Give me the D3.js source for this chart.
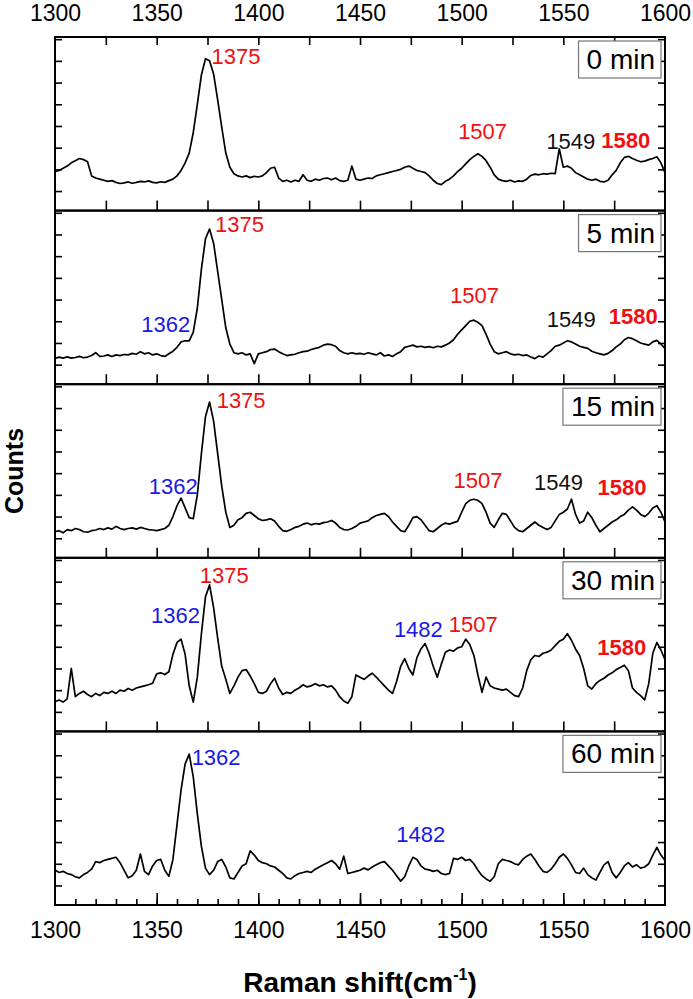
<!DOCTYPE html>
<html>
<head>
<meta charset="utf-8">
<script src="https://cdn.jsdelivr.net/npm/d3@7"></script>
<style>
  html, body { margin: 0; padding: 0; background: #fff; }
  svg { display: block; font-family: "Liberation Sans", Arial, sans-serif; }
</style>
</head>
<body>
<svg id="chart" width="693" height="999"></svg>
<script>
// Raman shift sampling grid (cm-1)
const shift = [
 1300,1302,1304,1306,1308,1310,1312,1314,1316,1318,
 1320,1322,1324,1326,1328,1330,1332,1334,1336,1338,
 1340,1342,1344,1346,1348,1350,1352,1354,1356,1358,
 1360,1362,1364,1366,1368,1370,1372,1374,1376,1378,
 1380,1382,1384,1386,1388,1390,1392,1394,1396,1398,
 1400,1402,1404,1406,1408,1410,1412,1414,1416,1418,
 1420,1422,1424,1426,1428,1430,1432,1434,1436,1438,
 1440,1442,1444,1446,1448,1450,1452,1454,1456,1458,
 1460,1462,1464,1466,1468,1470,1472,1474,1476,1478,
 1480,1482,1484,1486,1488,1490,1492,1494,1496,1498,
 1500,1502,1504,1506,1508,1510,1512,1514,1516,1518,
 1520,1522,1524,1526,1528,1530,1532,1534,1536,1538,
 1540,1542,1544,1546,1548,1550,1552,1554,1556,1558,
 1560,1562,1564,1566,1568,1570,1572,1574,1576,1578,
 1580,1582,1584,1586,1588,1590,1592,1594,1596,1598,
 1600];

// Counts (arbitrary units) per spectrum
const counts0 = [
 1.89,1.95,2.05,2.15,2.30,2.40,2.50,2.45,2.35,1.70,
 1.60,1.55,1.50,1.45,1.48,1.40,1.35,1.38,1.42,1.36,
 1.40,1.45,1.42,1.47,1.40,1.38,1.43,1.40,1.48,1.55,
 1.70,1.95,2.30,2.75,3.70,5.00,6.35,7.10,7.00,6.40,
 5.20,3.95,2.75,2.10,1.80,1.70,1.65,1.70,1.62,1.68,
 1.65,1.70,1.85,2.05,2.10,1.60,1.45,1.50,1.42,1.50,
 1.45,1.75,1.50,1.45,1.55,1.50,1.58,1.60,1.52,1.60,
 1.48,1.45,1.50,2.15,1.55,1.50,1.55,1.60,1.58,1.70,
 1.75,1.80,1.85,1.90,1.95,2.00,2.10,2.15,2.05,1.95,
 1.90,1.85,1.70,1.50,1.35,1.30,1.45,1.55,1.70,1.90,
 2.05,2.25,2.45,2.60,2.72,2.60,2.40,2.10,1.75,1.55,
 1.48,1.45,1.50,1.42,1.47,1.45,1.55,1.72,1.78,1.75,
 1.80,1.78,1.82,1.80,2.95,2.10,2.15,2.05,1.85,1.75,
 1.65,1.55,1.50,1.55,1.45,1.42,1.50,1.75,1.95,2.30,
 2.55,2.60,2.50,2.42,2.35,2.38,2.45,2.50,2.58,2.30,
 1.85];

const counts5 = [
 1.29,1.35,1.30,1.36,1.30,1.33,1.38,1.32,1.35,1.42,
 1.55,1.38,1.40,1.45,1.38,1.45,1.42,1.47,1.45,1.52,
 1.48,1.60,1.50,1.55,1.45,1.50,1.42,1.38,1.50,1.62,
 1.80,2.05,2.10,2.10,2.50,3.60,5.40,6.80,7.25,6.60,
 5.30,4.00,2.70,1.95,1.55,1.50,1.55,1.45,1.50,1.05,
 1.50,1.55,1.60,1.70,1.72,1.60,1.50,1.42,1.45,1.48,
 1.55,1.60,1.62,1.70,1.75,1.80,1.90,1.95,1.92,1.85,
 1.65,1.55,1.50,1.55,1.50,1.52,1.48,1.55,1.50,1.45,
 1.55,1.40,1.45,1.38,1.50,1.60,1.80,1.85,1.90,1.82,
 1.85,1.80,1.83,1.78,1.85,1.82,1.90,2.00,2.15,2.40,
 2.60,2.80,3.00,3.05,2.95,2.80,2.40,1.95,1.60,1.50,
 1.55,1.60,1.50,1.45,1.48,1.42,1.45,1.35,1.28,1.40,
 1.35,1.50,1.65,1.85,1.90,2.00,2.10,2.05,1.95,1.85,
 1.80,1.75,1.62,1.55,1.50,1.45,1.52,1.65,1.82,1.95,
 2.15,2.25,2.20,2.10,2.00,1.95,1.90,2.05,2.12,1.95,
 1.75];

const counts15 = [
 1.30,1.35,1.25,1.40,1.35,1.45,1.40,1.30,1.28,1.35,
 1.38,1.45,1.40,1.48,1.42,1.55,1.45,1.40,1.45,1.48,
 1.42,1.50,1.45,1.40,1.38,1.35,1.40,1.45,1.60,2.00,
 2.50,2.85,2.40,1.95,1.90,3.00,4.90,6.60,7.28,6.40,
 4.90,3.40,2.20,1.50,1.60,1.85,1.95,2.15,2.20,2.05,
 1.90,1.82,1.85,1.90,1.80,1.55,1.35,1.32,1.40,1.50,
 1.55,1.65,1.70,1.62,1.68,1.65,1.72,1.75,1.82,1.70,
 1.50,1.40,1.38,1.45,1.55,1.70,1.75,1.80,1.95,2.05,
 2.10,2.15,2.00,1.75,1.55,1.35,1.30,1.60,1.95,2.00,
 1.85,1.60,1.35,1.30,1.45,1.60,1.70,1.65,1.72,1.78,
 2.20,2.60,2.75,2.80,2.75,2.60,2.20,1.70,1.50,1.85,
 2.15,2.10,1.80,1.50,1.35,1.30,1.45,1.60,1.75,1.60,
 1.50,1.40,1.50,1.80,2.10,2.20,2.35,2.80,2.10,1.70,
 1.80,2.20,1.95,1.60,1.30,1.45,1.60,1.75,1.85,2.00,
 2.10,2.30,2.45,2.30,2.10,2.00,2.15,2.40,2.50,2.20,
 1.75];

const counts30 = [
 1.47,1.55,1.45,1.60,3.00,1.70,1.85,1.95,1.80,1.70,
 1.85,1.75,1.90,1.85,1.95,1.85,2.00,1.95,2.08,2.00,
 2.10,2.15,2.20,2.25,2.32,2.75,2.80,2.72,2.85,3.65,
 4.20,4.35,3.65,2.20,1.45,2.60,4.60,6.30,6.85,5.80,
 4.40,3.10,2.50,1.85,2.20,2.60,2.90,2.95,2.65,2.30,
 1.90,1.85,1.95,2.30,2.55,2.10,1.80,1.90,1.85,2.00,
 2.10,2.25,2.15,2.20,2.30,2.20,2.25,2.15,2.20,2.00,
 1.70,1.50,1.40,1.70,2.70,2.60,2.50,2.65,2.78,2.60,
 2.40,2.20,2.00,1.85,2.40,3.10,3.45,3.00,2.70,3.50,
 3.90,4.15,3.70,3.10,2.60,3.20,3.75,3.85,3.80,3.95,
 4.00,4.35,4.10,3.60,2.70,1.90,2.60,2.20,2.10,2.05,
 2.00,2.05,1.90,1.75,1.70,2.10,2.90,3.40,3.60,3.55,
 3.70,3.75,3.85,4.05,4.25,4.35,4.60,4.30,3.90,3.60,
 3.00,2.20,2.05,2.30,2.45,2.55,2.70,2.80,2.95,3.05,
 3.15,2.90,2.10,1.90,1.75,1.55,2.30,3.70,4.20,3.85,
 3.40];

const counts60 = [
 1.71,1.60,1.65,1.55,1.50,1.40,1.35,1.50,1.60,1.75,
 2.10,2.05,2.15,2.20,2.25,2.30,2.05,1.70,1.35,1.45,
 1.70,2.45,1.65,1.50,1.90,2.15,2.20,1.70,1.42,2.20,
 3.80,5.40,6.60,7.05,6.00,4.30,2.80,1.80,1.50,1.70,
 2.10,2.20,1.85,1.35,1.30,1.60,1.90,2.00,2.60,2.40,
 2.15,2.05,2.00,1.90,1.85,1.70,1.55,1.35,1.30,1.45,
 1.55,1.60,1.65,1.60,1.75,1.85,1.95,2.05,2.15,2.00,
 1.75,2.35,1.55,1.60,1.65,1.70,1.80,1.72,1.85,1.95,
 2.05,2.10,1.90,1.70,1.45,1.20,1.40,1.90,2.30,2.20,
 1.90,1.75,1.72,1.65,1.70,1.55,1.50,1.55,2.25,2.20,
 2.30,2.15,2.20,2.00,1.70,1.45,1.30,1.20,1.40,2.00,
 2.20,2.15,2.10,2.00,1.95,2.20,2.35,2.45,2.20,1.90,
 1.65,1.60,1.75,2.00,2.30,2.45,2.25,1.95,1.60,1.55,
 1.80,1.50,1.35,1.25,1.60,1.95,2.10,1.60,1.35,1.60,
 1.90,2.05,1.85,1.95,1.80,1.85,2.00,2.40,2.75,2.40,
 2.15];

const spectra = [counts0, counts5, counts15, counts30, counts60];
const panelNames = ["0 min", "5 min", "15 min", "30 min", "60 min"];

const xTickLabels = [1300, 1350, 1400, 1450, 1500, 1550, 1600];
const xTicksMid = [1325, 1350, 1375, 1400, 1425, 1450, 1475, 1500, 1525, 1550, 1575];
const xTicksFine = [1310,1320,1330,1340,1350,1360,1370,1380,1390,1400,1410,1420,1430,1440,1450,
                    1460,1470,1480,1490,1500,1510,1520,1530,1540,1550,1560,1570,1580,1590];
const yTicks = [1, 2, 3, 4, 5, 6, 7, 8];

// peak annotations: panel, text, shift, count level, colour, bold, anchor
const peakPanel  = [0,0,0,0, 1,1,1,1,1, 2,2,2,2,2, 3,3,3,3,3, 4,4];
const peakText   = ["1375","1507","1549","1580", "1375","1362","1507","1549","1580",
                    "1375","1362","1507","1549","1580", "1375","1362","1482","1507","1580",
                    "1362","1482"];
const peakShift  = [1377,1510.3,1553.7,1580.7, 1378.7,1354.5,1506.3,1553.9,1584.4,
                    1379.5,1358.2,1508,1547.6,1578.9, 1383.2,1359.3,1478.7,1505.7,1578.7,
                    1367.2,1479.9];
const peakLevel  = [6.84,3.39,2.92,2.99, 7.1,2.49,3.86,2.75,2.87,
                    6.99,3.04,3.3,3.22,2.99, 6.92,5.11,4.46,4.7,3.62,
                    6.55,3.02];
const peakColor  = ["red","red","black","red", "red","blue","red","black","red",
                    "red","blue","red","black","red", "red","blue","blue","red","red",
                    "blue","blue"];
const peakBold   = [0,0,0,1, 0,0,0,0,1, 0,0,0,0,1, 0,0,0,0,1, 0,0];
const peakAnchor = ["start","middle","middle","middle", "start","middle","middle","middle","middle",
                    "start","middle","middle","middle","middle", "middle","middle","middle","middle","middle",
                    "start","middle"];

const colorMap = { red: "#f01010", blue: "#1a1ae6", black: "#111" };

const svg = d3.select("#chart");
const left = 55, right = 665, top0 = 37, bottom = 905;
const nP = spectra.length;
const panelH = (bottom - top0) / nP;

const x = d3.scaleLinear().domain([1300, 1600]).range([left, right]);

spectra.forEach((vals, i) => {
  const pTop = top0 + i * panelH;
  const pBot = pTop + panelH;
  const y = d3.scaleLinear().domain([0.1, 8.1]).range([pBot, pTop]);
  const g = svg.append("g");

  // spectrum
  const line = d3.line().x((d, k) => x(shift[k])).y(d => y(d));
  g.append("path").datum(vals)
    .attr("d", line)
    .attr("fill", "none")
    .attr("stroke", "#000")
    .attr("stroke-width", 1.7)
    .attr("stroke-linejoin", "round");

  // y ticks (inward on both sides)
  const yl = g.append("g").attr("transform", `translate(${left},0)`)
    .call(d3.axisRight(y).tickValues(yTicks).tickSize(7).tickFormat(""));
  const yr = g.append("g").attr("transform", `translate(${right},0)`)
    .call(d3.axisLeft(y).tickValues(yTicks).tickSize(7).tickFormat(""));
  [yl, yr].forEach(a => { a.select(".domain").remove(); a.selectAll("line").attr("stroke-width", 1.6); });

  // top ticks for first panel
  if (i === 0) {
    const at = g.append("g").attr("transform", `translate(0,${pTop})`)
      .call(d3.axisBottom(x).tickValues(xTicksMid).tickSize(8).tickFormat(""));
    at.select(".domain").remove();
    at.selectAll("line").attr("stroke-width", 1.6);
  }
  // bottom ticks
  if (i < nP - 1) {
    const ab = g.append("g").attr("transform", `translate(0,${pBot})`)
      .call(d3.axisTop(x).tickValues(xTicksMid).tickSize(10).tickFormat(""));
    ab.select(".domain").remove();
    ab.selectAll("line").attr("stroke-width", 1.6);
  } else {
    const ab = g.append("g").attr("transform", `translate(0,${pBot})`)
      .call(d3.axisTop(x).tickValues(xTicksFine).tickSize(6).tickFormat(""));
    ab.select(".domain").remove();
    ab.selectAll("line").attr("stroke-width", 1.6);
    const ab2 = g.append("g").attr("transform", `translate(0,${pBot})`)
      .call(d3.axisTop(x).tickValues([1350, 1400, 1450, 1500, 1550]).tickSize(12).tickFormat(""));
    ab2.select(".domain").remove();
    ab2.selectAll("line").attr("stroke-width", 1.6);
  }

  // frame
  g.append("rect")
    .attr("x", left).attr("y", pTop)
    .attr("width", right - left).attr("height", panelH)
    .attr("fill", "none").attr("stroke", "#000").attr("stroke-width", 2);

  // panel label box
  const box = g.append("rect");
  const lbl = g.append("text")
    .attr("text-anchor", "end")
    .attr("font-size", 28)
    .attr("fill", "#000")
    .text(panelNames[i]);
  const tw = lbl.node().getComputedTextLength();
  const boxR = right - 4, boxW = tw + 14, boxT = pTop + 4, boxH = 37;
  box.attr("x", boxR - boxW).attr("y", boxT)
    .attr("width", boxW).attr("height", boxH)
    .attr("fill", "#fff").attr("stroke", "#777").attr("stroke-width", 1.2);
  lbl.attr("x", boxR - 6).attr("y", boxT + 28);

  // peak labels
  peakPanel.forEach((p, k) => {
    if (p !== i) return;
    g.append("text")
      .attr("x", x(peakShift[k]))
      .attr("y", y(peakLevel[k]))
      .attr("text-anchor", peakAnchor[k])
      .attr("font-size", 22)
      .attr("font-weight", peakBold[k] ? "bold" : "normal")
      .attr("fill", colorMap[peakColor[k]])
      .text(peakText[k]);
  });
});

// top tick labels
const axTop = svg.append("g").attr("transform", `translate(0,${top0})`)
  .call(d3.axisTop(x).tickValues(xTickLabels).tickSize(0).tickPadding(16).tickFormat(d3.format("d")));
axTop.select(".domain").remove();
axTop.selectAll("text").attr("font-size", 23).attr("fill", "#000");
axTop.attr("font-family", null);

// bottom tick labels
const axBot = svg.append("g").attr("transform", `translate(0,${bottom})`)
  .call(d3.axisBottom(x).tickValues(xTickLabels).tickSize(0).tickPadding(17).tickFormat(d3.format("d")));
axBot.select(".domain").remove();
axBot.selectAll("text").attr("font-size", 23).attr("fill", "#000");
axBot.attr("font-family", null);

// axis titles
const xt = svg.append("text")
  .attr("x", (left + right) / 2).attr("y", 992)
  .attr("text-anchor", "middle")
  .attr("font-size", 28).attr("font-weight", "bold");
xt.append("tspan").text("Raman shift(cm");
xt.append("tspan").attr("font-size", 16).attr("dy", -12).text("-1");
xt.append("tspan").attr("dy", 12).text(")");

svg.append("text")
  .attr("transform", `translate(23,${(top0 + bottom) / 2}) rotate(-90)`)
  .attr("text-anchor", "middle")
  .attr("font-size", 25).attr("font-weight", "bold")
  .text("Counts");
</script>
</body>
</html>
